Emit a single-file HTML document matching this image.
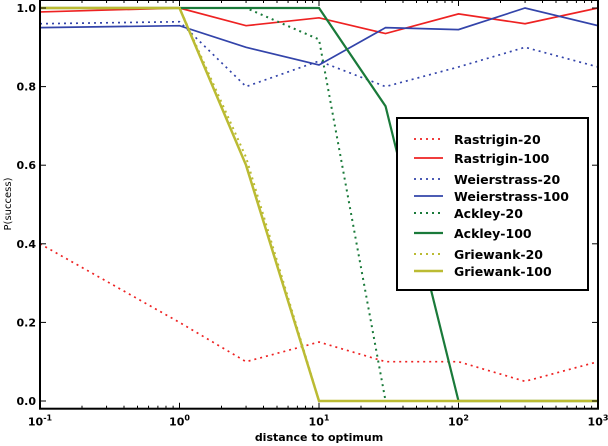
<!DOCTYPE html>
<html><head><meta charset="utf-8"><style>
body{margin:0;background:#fff}
svg{display:block;font-family:"DejaVu Sans","Liberation Sans",sans-serif}
</style></head><body>
<svg id="chart" width="608" height="446" xmlns="http://www.w3.org/2000/svg"></svg>
<script>
const xValues = [0.1, 1, 3, 10, 30, 100, 300, 1000];
const rastrigin20 = [0.4, 0.2, 0.1, 0.15, 0.1, 0.1, 0.05, 0.1];
const rastrigin100 = [0.99, 1.0, 0.955, 0.975, 0.935, 0.985, 0.96, 1.0];
const weier20 = [0.96, 0.965, 0.8, 0.865, 0.8, 0.85, 0.9, 0.85];
const weier100 = [0.95, 0.955, 0.9, 0.855, 0.95, 0.945, 1.0, 0.955];
const ackley20 = [1.0, 1.0, 1.0, 0.92, 0.0, 0.0, 0.0, 0.0];
const ackley100 = [1.0, 1.0, 1.0, 1.0, 0.75, 0.0, 0.0, 0.0];
const griewank20 = [1.0, 1.0, 0.62, 0.0, 0.0, 0.0, 0.0, 0.0];
const griewank100 = [1.0, 1.0, 0.6, 0.0, 0.0, 0.0, 0.0, 0.0];
const yTicks = [0, 0.2, 0.4, 0.6, 0.8, 1.0];
const yTickLabels = ["0.0","0.2","0.4","0.6","0.8","1.0"];
const xDecades = [-1, 0, 1, 2, 3];

const NS="http://www.w3.org/2000/svg";
const svg=document.getElementById('chart');
const L=40,R=598,T=0,B=408.7;
const xs=v=>L+(Math.log10(v)+1)/4*(R-L);
const ys=v=>401-v*393;
function mk(tag,attrs,parent){const e=document.createElementNS(NS,tag);for(const k in attrs)e.setAttribute(k,attrs[k]);(parent||svg).appendChild(e);return e;}

const series=[
 {name:'rastrigin-20',label:'Rastrigin-20',data:rastrigin20,color:'#ee2222',dash:'2,4',w:1.7},
 {name:'rastrigin-100',label:'Rastrigin-100',data:rastrigin100,color:'#ee2222',dash:'',w:1.7},
 {name:'weierstrass-20',label:'Weierstrass-20',data:weier20,color:'#3344aa',dash:'2,4',w:1.7},
 {name:'weierstrass-100',label:'Weierstrass-100',data:weier100,color:'#3344aa',dash:'',w:1.7},
 {name:'ackley-20',label:'Ackley-20',data:ackley20,color:'#1a7a3a',dash:'2,4',w:2},
 {name:'ackley-100',label:'Ackley-100',data:ackley100,color:'#1a7a3a',dash:'',w:2.2},
 {name:'griewank-20',label:'Griewank-20',data:griewank20,color:'#bbbb33',dash:'2,4',w:2},
 {name:'griewank-100',label:'Griewank-100',data:griewank100,color:'#bbbb33',dash:'',w:2.5}
];
const clip=mk('clipPath',{id:'pc'});mk('rect',{x:L,y:T,width:R-L,height:B-T},clip);
series.forEach(s=>{
  const p=mk('polyline',{points:s.data.map((v,i)=>xs(xValues[i])+','+ys(v)).join(' '),fill:'none',stroke:s.color,'stroke-width':s.w,'stroke-dasharray':s.dash,'clip-path':'url(#pc)'});
  
  
});
const ax=mk('rect',{x:L,y:T,width:R-L,height:B-T,fill:'none',stroke:'#000','stroke-width':2});


yTicks.forEach((v,i)=>{
  const y=ys(v);
  mk('line',{x1:L,x2:L+6,y1:y,y2:y,stroke:'#000'});
  mk('line',{x1:R-6,x2:R,y1:y,y2:y,stroke:'#000'});
  const t=mk('text',{x:L-4,y:y+4,'text-anchor':'end','font-size':11,'font-weight':'bold'});
  t.textContent=yTickLabels[i];
  
  
});
xDecades.forEach(d=>{
  const x=xs(Math.pow(10,d));
  mk('line',{x1:x,x2:x,y1:B,y2:B-6,stroke:'#000'});
  mk('line',{x1:x,x2:x,y1:T,y2:T+6,stroke:'#000'});
  if(d<3)for(let m=2;m<10;m++){const xm=xs(m*Math.pow(10,d));
    mk('line',{x1:xm,x2:xm,y1:B,y2:B-3,stroke:'#000'});mk('line',{x1:xm,x2:xm,y1:T,y2:T+3,stroke:'#000'});}
  const t=mk('text',{x:x,y:B+17,'text-anchor':'middle','font-size':11,'font-weight':'bold'});
  t.textContent='10';
  const sp=mk('tspan',{dy:-5,'font-size':8},t);sp.textContent=String(d);
  
  
});
const xl=mk('text',{x:319,y:441,'text-anchor':'middle','font-size':11,'font-weight':'bold'});
xl.textContent='distance to optimum';


const yl=mk('text',{x:11,y:204,'text-anchor':'middle','font-size':10,transform:'rotate(-90 11 204)'});
yl.textContent='P(success)';


const lg=mk('g',{});


mk('rect',{x:397,y:118,width:191,height:172,fill:'#fff',stroke:'#000','stroke-width':2},lg);
const ly=[139,158,179,196,213,233,254,271];
series.forEach((s,i)=>{
  const g=mk('g',{},lg);
  
  
  mk('line',{x1:414,x2:443,y1:ly[i],y2:ly[i],stroke:s.color,'stroke-width':s.w,'stroke-dasharray':s.dash},g);
  const t=mk('text',{x:454,y:ly[i]+5,'font-size':12.5,'font-weight':'bold'},g);
  t.textContent=s.label;
});
</script>
</body></html>
